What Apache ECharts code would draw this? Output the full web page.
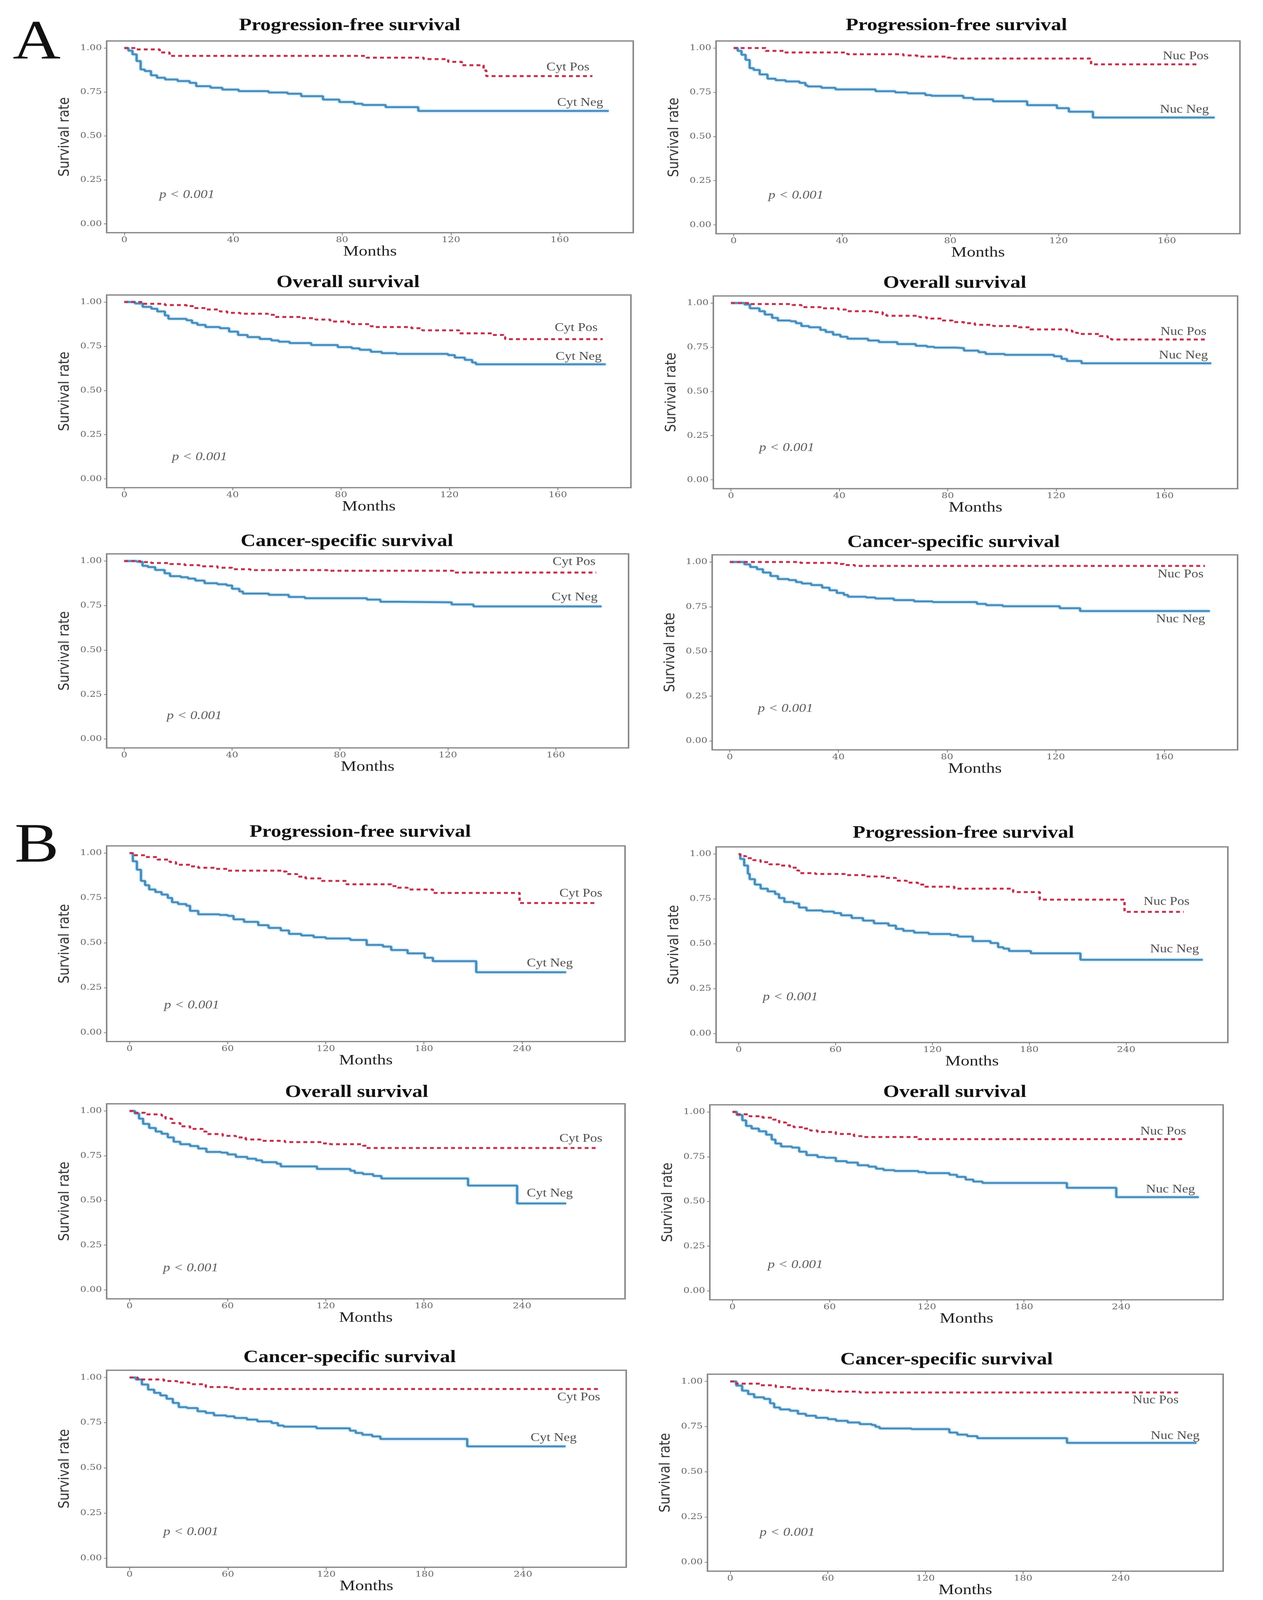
<!DOCTYPE html>
<html><head><meta charset="utf-8">
<script src="https://cdn.jsdelivr.net/npm/echarts@6/dist/echarts.min.js"></script>
<style>html,body{margin:0;padding:0;background:#fff;overflow:hidden}#c{width:3233px;height:4882px;transform-origin:0 0}</style>
</head><body><div id="c"></div>
<script>
// ---- tick values ----
const ticksA = [0, 40, 80, 120, 160];
const ticksB = [0, 60, 120, 180, 240];
const ticksY = [0, 0.25, 0.5, 0.75, 1];

// ---- Kaplan-Meier step data [months, survival] ----
const A_PFS_CytPos = [[0,1],[4.5,0.992],[13,0.975],[16.6,0.955],[89,0.945],[110,0.937],[119,0.921],[124,0.902],[132,0.873],[133,0.84],[172,0.84]];
const A_PFS_CytNeg = [[0,1],[1.5,0.985],[3,0.964],[4.5,0.926],[6,0.878],[7.5,0.869],[9.8,0.845],[12,0.831],[15,0.821],[19.6,0.812],[24,0.802],[26.4,0.783],[31.7,0.774],[36,0.764],[42,0.755],[53,0.747],[60,0.74],[65,0.726],[73,0.707],[79,0.693],[84.5,0.683],[87.5,0.676],[96,0.664],[108,0.642],[178,0.642]];
const A_PFS_NucPos = [[0,1],[11.8,0.984],[18.4,0.975],[42,0.965],[62.7,0.958],[67.8,0.952],[79,0.946],[80,0.941],[132,0.908],[172,0.908]];
const A_PFS_NucNeg = [[0,1],[1.5,0.984],[2.9,0.962],[4.4,0.933],[5.9,0.886],[7.4,0.876],[9.6,0.851],[12.5,0.827],[15.5,0.818],[19.2,0.811],[24.3,0.803],[26.5,0.789],[27.3,0.783],[32.4,0.775],[37.6,0.766],[52.4,0.756],[59.7,0.749],[64.2,0.744],[70.8,0.734],[73,0.73],[84.8,0.718],[88.5,0.71],[95.8,0.699],[108.4,0.677],[119.4,0.66],[123.8,0.64],[132.7,0.607],[177.7,0.607]];
const A_OS_CytPos = [[0,1],[6.8,0.99],[15,0.983],[23,0.977],[25.8,0.966],[30,0.958],[35.3,0.947],[38,0.939],[42.8,0.934],[53,0.928],[55.7,0.916],[65,0.909],[70.6,0.901],[76,0.89],[82.9,0.882],[84,0.875],[91,0.863],[92.4,0.859],[106,0.852],[110,0.84],[123.6,0.823],[135.8,0.814],[140,0.802],[140.6,0.79],[176.6,0.79]];
const A_OS_CytNeg = [[0,1],[4,0.992],[6.8,0.973],[10,0.962],[12.2,0.947],[15,0.924],[16.3,0.905],[23,0.897],[25,0.882],[27,0.871],[30,0.859],[35.3,0.852],[38.7,0.833],[42,0.814],[45.5,0.802],[50,0.791],[54.3,0.783],[57,0.776],[61,0.768],[69,0.757],[78.8,0.745],[84,0.738],[86.9,0.73],[91,0.719],[95,0.711],[100.5,0.707],[119.5,0.7],[122,0.686],[125.7,0.673],[128.4,0.658],[129.8,0.648],[177.7,0.648]];
const A_OS_NucPos = [[0,1],[7,0.994],[22.7,0.989],[26,0.977],[34,0.97],[39.7,0.963],[42.4,0.954],[52,0.948],[56,0.935],[57.4,0.928],[69.6,0.92],[72.3,0.912],[77.8,0.901],[81.8,0.892],[86,0.886],[90,0.877],[96.8,0.87],[106.3,0.863],[110.4,0.851],[124,0.844],[126,0.832],[128,0.825],[136,0.813],[139,0.806],[140.3,0.794],[175.4,0.794]];
const A_OS_NucNeg = [[0,1],[5,0.992],[7,0.97],[10.5,0.954],[12.5,0.935],[15.2,0.916],[17.3,0.901],[22,0.897],[24,0.886],[26,0.87],[28.8,0.863],[33,0.848],[35,0.836],[37.7,0.821],[40.4,0.809],[43,0.798],[50.6,0.788],[54.6,0.779],[61.4,0.768],[68.2,0.758],[72.3,0.752],[75,0.748],[83,0.745],[86,0.731],[91.4,0.722],[94,0.712],[101,0.707],[119.2,0.699],[122,0.684],[124,0.672],[129.4,0.659],[177.3,0.659]];
const A_CSS_CytPos = [[0,1],[6,0.994],[10,0.989],[17,0.983],[22.4,0.977],[27.8,0.97],[34.6,0.962],[40,0.954],[46.8,0.949],[75.3,0.945],[122,0.935],[175,0.935]];
const A_CSS_CytNeg = [[0,1],[4.7,0.996],[6.8,0.973],[8.8,0.966],[11.5,0.95],[15,0.931],[17,0.915],[21,0.909],[23.7,0.901],[26.4,0.89],[29.8,0.875],[34.6,0.869],[38,0.863],[40,0.844],[42.7,0.829],[44,0.817],[53.6,0.81],[61,0.798],[67,0.791],[90,0.783],[95,0.771],[101,0.768],[121.4,0.756],[129.5,0.745],[177,0.745]];
const A_CSS_NucPos = [[0,1],[26,0.995],[39.4,0.989],[42,0.983],[46,0.978],[175,0.978]];
const A_CSS_NucNeg = [[0,1],[5.4,0.987],[7.5,0.972],[10,0.96],[12.2,0.941],[15,0.922],[17.7,0.905],[21.7,0.899],[24.4,0.888],[26.5,0.88],[30,0.871],[34,0.857],[36.7,0.842],[39.4,0.827],[42,0.816],[43.5,0.806],[50.2,0.802],[53.6,0.796],[60.4,0.787],[67.9,0.78],[74.7,0.776],[91,0.766],[94.4,0.759],[100.5,0.753],[121.5,0.742],[129,0.726],[176.8,0.726]];
const B_PFS_CytPos = [[0,1],[2,0.988],[9.5,0.978],[17,0.964],[24.6,0.95],[28.4,0.935],[37,0.926],[42,0.918],[52,0.912],[60,0.902],[93.7,0.897],[96,0.883],[102.5,0.869],[107.6,0.859],[117.6,0.845],[132.7,0.826],[160,0.816],[164,0.807],[170,0.797],[185.5,0.778],[238.5,0.722],[286,0.722]];
const B_PFS_CytNeg = [[0,1],[2,0.954],[4.5,0.907],[7,0.845],[9.5,0.821],[12,0.797],[15.8,0.783],[19.6,0.769],[23.4,0.75],[26,0.726],[29.7,0.716],[34.7,0.707],[37,0.678],[42,0.659],[55,0.655],[60,0.65],[63.6,0.631],[70,0.617],[78.7,0.598],[85,0.583],[92.5,0.569],[97.5,0.55],[105,0.541],[112.6,0.531],[120,0.524],[135,0.516],[145,0.488],[155,0.479],[160,0.46],[170,0.441],[180.4,0.417],[185.5,0.398],[212,0.336],[267,0.336]];
const B_PFS_NucPos = [[0,1],[1,0.989],[4.5,0.977],[9,0.966],[13.6,0.955],[19,0.943],[25,0.936],[31.7,0.924],[36,0.909],[37.4,0.894],[47.5,0.889],[65.7,0.883],[79,0.875],[90.6,0.867],[97.4,0.852],[104,0.841],[111,0.83],[115.5,0.818],[133.6,0.807],[170,0.788],[186.5,0.746],[239,0.678],[275.7,0.678]];
const B_PFS_NucNeg = [[0,1],[1,0.973],[3.4,0.936],[5.7,0.89],[6.8,0.86],[10,0.83],[13.6,0.807],[18,0.792],[22.6,0.777],[25,0.755],[28.3,0.733],[34,0.725],[37.4,0.702],[42,0.686],[52,0.68],[59,0.671],[63.4,0.659],[70,0.644],[77,0.629],[83.8,0.614],[92.8,0.602],[97.4,0.583],[102,0.572],[108.7,0.562],[117.7,0.555],[131.3,0.549],[135.8,0.54],[145,0.515],[156,0.504],[160.7,0.481],[164,0.473],[167.5,0.46],[181,0.447],[211.7,0.411],[287.5,0.411]];
const B_OS_CytPos = [[0,1],[3.3,0.99],[9.5,0.981],[19.6,0.974],[22,0.957],[26,0.933],[31,0.914],[37,0.9],[44.7,0.885],[47,0.871],[57,0.861],[65,0.852],[71,0.841],[80,0.833],[95,0.826],[117.6,0.819],[122.6,0.814],[142.7,0.806],[145,0.793],[286,0.793]];
const B_OS_CytNeg = [[0,1],[3.3,0.986],[5.8,0.957],[8.3,0.928],[12,0.905],[16,0.885],[19.6,0.873],[23.4,0.852],[27,0.828],[31,0.814],[37,0.804],[42,0.79],[47,0.771],[56,0.767],[60,0.757],[65,0.743],[72,0.733],[77.4,0.724],[81,0.714],[90,0.705],[92.5,0.69],[114.6,0.676],[135,0.666],[137.7,0.654],[142.7,0.647],[149,0.637],[154,0.623],[207,0.583],[237,0.483],[267,0.483]];
const B_OS_NucPos = [[0,1],[2.7,0.987],[10.6,0.976],[18.6,0.968],[25,0.957],[28.8,0.941],[33,0.926],[37.8,0.915],[43.5,0.907],[48,0.896],[52.5,0.888],[63.8,0.877],[75,0.865],[80.8,0.86],[114.8,0.848],[279,0.848]];
const B_OS_NucNeg = [[0,1],[2.7,0.983],[6.1,0.953],[8.4,0.922],[11.8,0.907],[16.3,0.892],[20.8,0.873],[24.2,0.846],[26.5,0.824],[30,0.807],[36.7,0.801],[41.2,0.778],[45.7,0.759],[52.5,0.748],[57,0.744],[63.8,0.725],[70.6,0.717],[77.4,0.702],[84,0.694],[88.7,0.683],[93.3,0.675],[100,0.67],[114.8,0.664],[119.3,0.658],[134,0.649],[138.6,0.637],[144,0.622],[148.7,0.611],[154.4,0.603],[206.5,0.576],[237,0.524],[288,0.524]];
const B_CSS_CytPos = [[0,1],[5,0.989],[21,0.98],[29,0.972],[36.4,0.963],[46.5,0.947],[61.6,0.943],[64,0.936],[285.7,0.936]];
const B_CSS_CytNeg = [[0,1],[3.8,0.989],[7.5,0.961],[11.3,0.933],[15,0.915],[18.8,0.901],[22.6,0.882],[26.4,0.859],[30,0.836],[35,0.831],[41.5,0.813],[46.5,0.804],[51.5,0.79],[59,0.785],[64,0.776],[71.6,0.767],[78,0.757],[86.7,0.748],[90.5,0.734],[94,0.728],[114,0.719],[134.4,0.706],[138,0.693],[142,0.683],[148,0.674],[153,0.66],[206,0.619],[266,0.619]];
const B_CSS_NucPos = [[0,1],[3.7,0.988],[18.4,0.979],[28,0.969],[38,0.96],[47.8,0.951],[62.5,0.944],[79.6,0.939],[276.8,0.939]];
const B_CSS_NucNeg = [[0,1],[3.7,0.977],[7.3,0.949],[11,0.93],[14.7,0.912],[20.8,0.903],[24.5,0.879],[27,0.856],[30.6,0.845],[36.7,0.838],[41.6,0.821],[46.5,0.81],[52.7,0.799],[60,0.791],[65,0.782],[72.2,0.773],[79.6,0.764],[87,0.759],[89.3,0.749],[91.8,0.74],[111.4,0.736],[134.7,0.717],[139.6,0.706],[145.7,0.697],[151.9,0.686],[207,0.66],[286.6,0.66]];

// ---- panel texts ----
const titles = ['Progression-free survival','Progression-free survival','Overall survival','Overall survival','Cancer-specific survival','Cancer-specific survival',
                'Progression-free survival','Progression-free survival','Overall survival','Overall survival','Cancer-specific survival','Cancer-specific survival'];
const groupNames = [['Cyt Pos','Cyt Neg'],['Nuc Pos','Nuc Neg']];
const pText = 'p < 0.001';

// ---- layout (pixels on the 3233x4882 design page / anchors in axis units) ----
const panels = [
 {pos:A_PFS_CytPos, neg:A_PFS_CytNeg, g:0, set:'A', box:[273,125,1621,710],  tt:[895,78],   lp:[163,0.89],  ln:[167.5,0.688], pp:[23,0.165]},
 {pos:A_PFS_NucPos, neg:A_PFS_NucNeg, g:1, set:'A', box:[1833,125,3174,713], tt:[2448,78],  lp:[167,0.953], ln:[166.5,0.651], pp:[23,0.165]},
 {pos:A_OS_CytPos,  neg:A_OS_CytNeg,  g:0, set:'A', box:[273,900,1615,1488], tt:[891,862],  lp:[166.8,0.854],ln:[167.7,0.69], pp:[27.8,0.123]},
 {pos:A_OS_NucPos,  neg:A_OS_NucNeg,  g:1, set:'A', box:[1826,903,3168,1491],tt:[2444,864], lp:[167,0.837], ln:[167,0.703],   pp:[20.6,0.18]},
 {pos:A_CSS_CytPos, neg:A_CSS_CytNeg, g:0, set:'A', box:[273,1690,1609,2282],tt:[888,1652], lp:[166.8,0.994],ln:[167,0.795],  pp:[26,0.129]},
 {pos:A_CSS_NucPos, neg:A_CSS_NucNeg, g:1, set:'A', box:[1823,1693,3168,2288],tt:[2441,1655],lp:[166,0.93], ln:[166,0.68],    pp:[20.5,0.18]},
 {pos:B_PFS_CytPos, neg:B_PFS_CytNeg, g:0, set:'B', box:[273,2581,1600,3178],tt:[922,2539], lp:[276,0.773], ln:[257,0.384],   pp:[38,0.151]},
 {pos:B_PFS_NucPos, neg:B_PFS_NucNeg, g:1, set:'B', box:[1833,2584,3143,3181],tt:[2466,2542],lp:[265,0.734], ln:[270,0.468],   pp:[32,0.202]},
 {pos:B_OS_CytPos,  neg:B_OS_CytNeg,  g:0, set:'B', box:[273,3368,1600,3963],tt:[913,3333], lp:[276,0.844], ln:[257,0.538],   pp:[37.4,0.121]},
 {pos:B_OS_NucPos,  neg:B_OS_NucNeg,  g:1, set:'B', box:[1817,3371,3131,3966],tt:[2444,3333],lp:[266,0.89],  ln:[270.5,0.566], pp:[38.8,0.145]},
 {pos:B_CSS_CytPos, neg:B_CSS_CytNeg, g:0, set:'B', box:[273,4181,1603,4782],tt:[895,4142], lp:[274,0.89],  ln:[258.7,0.665], pp:[37.4,0.145]},
 {pos:B_CSS_NucPos, neg:B_CSS_NucNeg, g:1, set:'B', box:[1811,4193,3131,4794],tt:[2423,4149],lp:[261.5,0.895],ln:[273.5,0.698],pp:[35,0.163]}
];
const xRange = {A:[-6.5,187], B:[-14,303]};
const xTicks = {A:ticksA, B:ticksB};

// fit the 3233x4882 design page into the actual viewport
const el = document.getElementById('c');
const SX = window.innerWidth / 3233, SY = window.innerHeight / 4882;
el.style.transform = 'scale(' + SX + ',' + SY + ')';

const BLUE = '#4a8dbb', RED = '#c2304d';
const grid = [], xAxis = [], yAxis = [], series = [], graphic = [];
panels.forEach((p, i) => {
  const [l,t,r,b] = p.box;
  grid.push({left:l, top:t, width:r-l, height:b-t, show:true, borderColor:'#8a8a8a', borderWidth:4, backgroundColor:'#fff'});
  xAxis.push({type:'value', gridIndex:i, min:xRange[p.set][0], max:xRange[p.set][1],
    name:'Months', nameLocation:'middle', nameGap:24,
    nameTextStyle:{fontFamily:'Liberation Serif', fontSize:45, color:'#222'},
    axisLine:{show:false, onZero:false}, splitLine:{show:false},
    axisTick:{show:true, inside:false, length:8, lineStyle:{color:'#777', width:2}, customValues:xTicks[p.set]},
    axisLabel:{show:true, margin:10, fontFamily:'DejaVu Serif', fontSize:25, color:'#666', customValues:xTicks[p.set]}});
  yAxis.push({type:'value', gridIndex:i, min:-0.05, max:1.04,
    name:'Survival rate', nameLocation:'middle', nameGap:88, nameRotate:90,
    nameTextStyle:{fontFamily:'DejaVu Sans', fontSize:38, color:'#333'},
    axisLine:{show:false, onZero:false}, splitLine:{show:false},
    axisTick:{show:true, length:7, lineStyle:{color:'#777', width:2}, customValues:ticksY},
    axisLabel:{show:true, margin:12, fontFamily:'DejaVu Serif', fontSize:25, color:'#666', customValues:ticksY, formatter:v => v.toFixed(2)}});
  series.push({type:'line', xAxisIndex:i, yAxisIndex:i, step:'end', symbol:'none', data:p.neg, z:3,
    lineStyle:{color:BLUE, width:6, shadowColor:'rgba(120,200,245,0.7)', shadowBlur:6}});
  series.push({type:'line', xAxisIndex:i, yAxisIndex:i, step:'end', symbol:'none', data:p.pos, z:4,
    lineStyle:{color:RED, width:6, type:[10,8]}});
  const names = groupNames[p.g];
  series.push({type:'scatter', xAxisIndex:i, yAxisIndex:i, symbolSize:1, itemStyle:{color:'rgba(0,0,0,0)'}, z:5, silent:true,
    label:{show:true, position:'inside', formatter:'{b}', fontFamily:'Liberation Serif', fontSize:35, color:'#222'},
    data:[{name:names[0], value:p.lp},{name:names[1], value:p.ln},
          {name:pText, value:p.pp, label:{fontStyle:'italic', fontSize:36, color:'#333'}}]});
  graphic.push({type:'text', x:p.tt[0], y:p.tt[1], style:{text:titles[i], fill:'#111', font:'bold 53px "Liberation Serif"', textAlign:'center', textVerticalAlign:'middle'}});
});
graphic.push({type:'text', x:94, y:134, style:{text:'A', fill:'#111', font:'170px "Liberation Serif"', textAlign:'center', textVerticalAlign:'middle'}});
graphic.push({type:'text', x:94, y:2584, style:{text:'B', fill:'#111', font:'170px "Liberation Serif"', textAlign:'center', textVerticalAlign:'middle'}});

const chart = echarts.init(el, null, {renderer:'canvas', width:3233, height:4882});
chart.setOption({backgroundColor:'#fff', animation:false, grid, xAxis, yAxis, series, graphic});
</script></body></html>
